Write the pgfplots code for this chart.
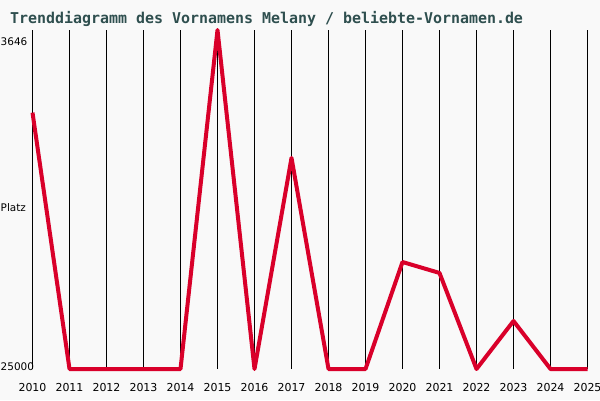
\documentclass[border=0pt]{standalone}
\usepackage{pgfplots}
\pgfplotsset{compat=1.18}
\usepackage{fontspec}
\setmainfont{DejaVu Sans}
\newfontfamily\monofont{DejaVu Sans Mono}
\definecolor{bgc}{HTML}{F9F9F9}
\definecolor{titlec}{HTML}{2F4F4F}
\definecolor{linec}{HTML}{D9002A}
\begin{document}
\begin{tikzpicture}[x=1bp,y=1bp]
\fill[bgc] (0,0) rectangle (600,400);
\path[use as bounding box] (0,0) rectangle (600,400);
\node[anchor=base west, inner sep=0, text=titlec, font=\monofont\bfseries\fontsize{15}{17}\selectfont] at (10,377) {Trenddiagramm des Vornamens Melany / beliebte-Vornamen.de};
\node[anchor=west, inner sep=0, font=\fontsize{10.5}{12}\selectfont] at (0.5,358) {3646};
\node[anchor=west, inner sep=0, font=\fontsize{10.5}{12}\selectfont] at (0.5,192) {Platz};
\node[anchor=west, inner sep=0, font=\fontsize{10.5}{12}\selectfont] at (0.5,33) {25000};
\begin{axis}[
  at={(32.5bp,31bp)}, anchor=south west,
  scale only axis, width=555bp, height=339bp,
  xmin=2010, xmax=2025, ymin=3646, ymax=25000,
  y dir=reverse,
  axis lines=none,
  clip=false,
  xtick=\empty, ytick=\empty,
]
\foreach \yr in {2010,...,2025} {
  \edef\tmp{\noexpand\draw[black, line width=1bp] (axis cs:\yr,3646) -- (axis cs:\yr,25000);
  \noexpand\node[anchor=base, inner sep=0, font=\noexpand\fontsize{11}{13}\noexpand\selectfont] at ([yshift=-22bp]axis cs:\yr,25000) {\yr};}
  \tmp
}
\addplot[linec, line width=4bp, line join=round, mark=none] coordinates {
(2010,8850) (2011,25000) (2012,25000) (2013,25000) (2014,25000)
(2015,3646) (2016,25000) (2017,11700) (2018,25000) (2019,25000)
(2020,18260) (2021,18950) (2022,25000) (2023,21976) (2024,25000) (2025,25000)
};
\end{axis}
\end{tikzpicture}
\end{document}
